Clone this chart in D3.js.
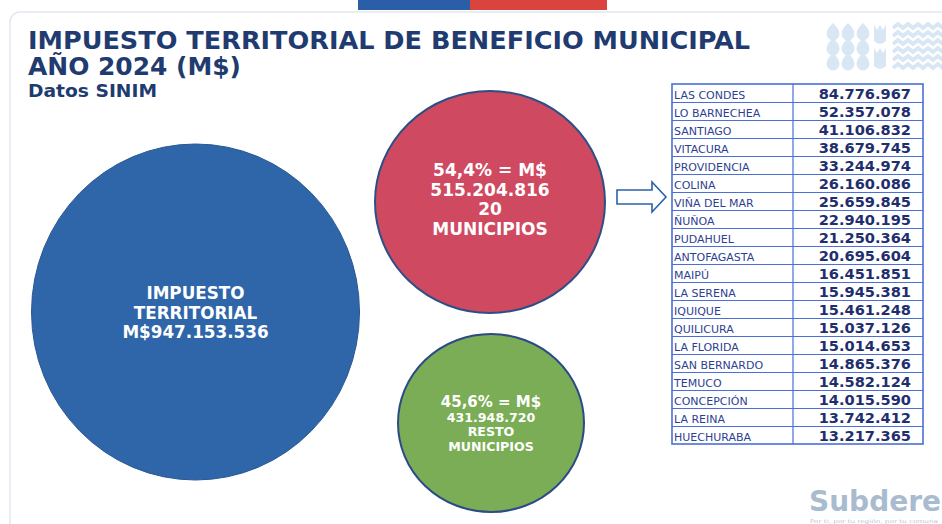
<!DOCTYPE html>
<html><head><meta charset="utf-8">
<script src="https://cdn.jsdelivr.net/npm/d3@7"></script>
<style>
html,body{margin:0;padding:0;background:#fff;}
svg{display:block;}
</style></head>
<body>
<div id="chart"></div>
<script>
// ---------- DATA ----------
const titleLines = ["IMPUESTO TERRITORIAL DE BENEFICIO MUNICIPAL", "AÑO 2024 (M$)"];
const subtitle = "Datos SINIM";
const municipios = ["LAS CONDES","LO BARNECHEA","SANTIAGO","VITACURA","PROVIDENCIA","COLINA","VIÑA DEL MAR","ÑUÑOA","PUDAHUEL","ANTOFAGASTA","MAIPÚ","LA SERENA","IQUIQUE","QUILICURA","LA FLORIDA","SAN BERNARDO","TEMUCO","CONCEPCIÓN","LA REINA","HUECHURABA"];
const valores = [84776967,52357078,41106832,38679745,33244974,26160086,25659845,22940195,21250364,20695604,16451851,15945381,15461248,15037126,15014653,14865376,14582124,14015590,13742412,13217365];
const grupos = ["total","top20","resto"];
const montos = [947153536, 515204816, 431948720];
const porcentajes = [null, 54.4, 45.6];
const etiquetasExtra = [["IMPUESTO","TERRITORIAL"], ["20","MUNICIPIOS"], ["RESTO","MUNICIPIOS"]];

// ---------- LAYOUT / STYLE ----------
const W = 942, H = 524;
const loc = d3.formatLocale({decimal: ",", thousands: ".", grouping: [3], currency: ["M$", ""]});
const fmtInt = loc.format(",d");
const fmtPct = loc.format(".1f");

const circleLayout = {
  total: {cx: 195.5, cy: 312, rx: 164, ry: 168, fill: "#2F66AA", stroke: "#29578f", sw: 1},
  top20: {cx: 490, cy: 202, rx: 115, ry: 111, fill: "#CF4961", stroke: "#2c4f86", sw: 2},
  resto: {cx: 491, cy: 423, rx: 93, ry: 89, fill: "#7AAD55", stroke: "#2b4a86", sw: 2}
};
const navy = "#1f3b70";

const svg = d3.select("#chart").append("svg").attr("width", W).attr("height", H);

// card
svg.append("rect").attr("x", 10).attr("y", 12).attr("width", 950).attr("height", 540)
  .attr("rx", 10).attr("fill", "#fff").attr("stroke", "#e2e8f1").attr("stroke-width", 1.5);

// flag stripe
svg.append("rect").attr("x", 358).attr("y", 0).attr("width", 112).attr("height", 10).attr("fill", "#2A5EA8");
svg.append("rect").attr("x", 470).attr("y", 0).attr("width", 137).attr("height", 10).attr("fill", "#D9443F");

// top-right decorative logo
const logo = svg.append("g").attr("fill", "#d9e7f5").attr("stroke", "none");
[833, 848, 863].forEach(x => [33, 48, 63].forEach(y => {
  logo.append("path").attr("d",
    `M${x},${y-10} Q${x+6.5},${y-4} ${x+6.5},${y+1} A6.5,6.5 0 1,1 ${x-6.5},${y+1} Q${x-6.5},${y-4} ${x},${y-10} Z`);
}));
[[25, 47], [48, 72]].forEach(([y0, y1]) => {
  logo.append("path").attr("d",
    `M874,${y0} L877,${y0+5} L880,${y0} L883,${y0+5} L886,${y0} L886,${y1-6} Q880,${y1} 874,${y1-6} Z`);
});
const waveG = svg.append("g").attr("fill", "none").attr("stroke", "#d9e7f5").attr("stroke-width", 4);
[28, 36, 44, 52, 60, 68].forEach(y => {
  let d = `M893,${y}`;
  for (let x = 893; x < 945; x += 10) d += ` L${x+5},${y-4} L${x+10},${y}`;
  waveG.append("path").attr("d", d);
});

// titles
const tg = svg.append("g").attr("fill", navy).attr("font-weight", "bold")
  .attr("font-family", "'DejaVu Sans Condensed','DejaVu Sans',sans-serif").style("font-stretch", "condensed");
tg.append("text").attr("x", 28).attr("y", 49).attr("font-size", 24).attr("textLength", 722)
  .attr("lengthAdjust", "spacingAndGlyphs").text(titleLines[0]);
tg.append("text").attr("x", 28).attr("y", 75).attr("font-size", 24).attr("textLength", 213)
  .attr("lengthAdjust", "spacingAndGlyphs").text(titleLines[1]);
tg.append("text").attr("x", 28).attr("y", 97).attr("font-size", 18).attr("textLength", 129)
  .attr("lengthAdjust", "spacingAndGlyphs").text(subtitle);

// circles
const circG = svg.append("g");
grupos.forEach((g, i) => {
  const c = circleLayout[g];
  circG.append("ellipse").attr("cx", c.cx).attr("cy", c.cy).attr("rx", c.rx).attr("ry", c.ry)
    .attr("fill", c.fill).attr("stroke", c.stroke).attr("stroke-width", c.sw);
});

function lines(g, arr) {
  const c = circleLayout[g];
  const t = circG.append("text").attr("text-anchor", "middle").attr("fill", "#fff")
    .attr("font-family", "'DejaVu Sans',Verdana,sans-serif").attr("font-weight", "bold");
  arr.forEach(l => {
    t.append("tspan").attr("x", c.cx).attr("y", l.y).attr("font-size", l.fs).text(l.t);
  });
}
lines("total", [
  {t: etiquetasExtra[0][0], y: 299, fs: 16.8},
  {t: etiquetasExtra[0][1], y: 318.5, fs: 16.8},
  {t: "M$" + fmtInt(montos[0]), y: 338, fs: 16.8}
]);
lines("top20", [
  {t: fmtPct(porcentajes[1]) + "% = M$", y: 176, fs: 17},
  {t: fmtInt(montos[1]), y: 195.5, fs: 17},
  {t: etiquetasExtra[1][0], y: 215, fs: 17},
  {t: etiquetasExtra[1][1], y: 234.5, fs: 17}
]);
lines("resto", [
  {t: fmtPct(porcentajes[2]) + "% = M$", y: 407, fs: 15},
  {t: fmtInt(montos[2]), y: 421.5, fs: 12.6},
  {t: etiquetasExtra[2][0], y: 436, fs: 12.6},
  {t: etiquetasExtra[2][1], y: 450.5, fs: 12.6}
]);

// arrow
svg.append("path")
  .attr("d", "M617,190 L652,190 L652,182 L666,197 L652,212 L652,204 L617,204 Z")
  .attr("fill", "#fff").attr("stroke", "#2A62AC").attr("stroke-width", 1.6).attr("stroke-linejoin", "miter");

// table
const tX0 = 672, tX1 = 793, tX2 = 923;
const y = d3.scaleBand().domain(municipios).range([84, 444]).padding(0);
const tbl = svg.append("g");
const rows = tbl.selectAll("g.row").data(municipios.map((m, i) => ({m, v: valores[i]})))
  .join("g").attr("class", "row").attr("transform", d => `translate(0,${y(d.m)})`);
rows.append("text").attr("x", tX0 + 2).attr("y", y.bandwidth() - 3)
  .attr("font-family", "'DejaVu Sans',Verdana,sans-serif").attr("font-size", 11)
  .attr("fill", "#2e3f93").text(d => d.m);
rows.append("text").attr("x", tX2 - 12).attr("y", y.bandwidth() - 3).attr("text-anchor", "end")
  .attr("font-family", "'DejaVu Sans',Verdana,sans-serif").attr("font-weight", "bold").attr("font-size", 14.6)
  .attr("fill", "#1f2f6e").text(d => fmtInt(d.v));
const lineCol = "#4a6fd6";
tbl.selectAll("line.h").data(municipios.slice(1)).join("line").attr("class", "h")
  .attr("x1", tX0).attr("x2", tX2).attr("y1", d => y(d) + 0.5).attr("y2", d => y(d) + 0.5)
  .attr("stroke", lineCol).attr("stroke-width", 1.2);
tbl.append("line").attr("x1", tX1).attr("x2", tX1).attr("y1", 84).attr("y2", 444)
  .attr("stroke", lineCol).attr("stroke-width", 1.2);
tbl.append("rect").attr("x", tX0).attr("y", 84).attr("width", tX2 - tX0).attr("height", 360)
  .attr("fill", "none").attr("stroke", lineCol).attr("stroke-width", 1.6);

// Subdere logo
svg.append("text").attr("x", 809).attr("y", 511).attr("font-family", "'DejaVu Sans',sans-serif")
  .attr("font-weight", "bold").attr("font-size", 28).attr("fill", "#a8bbcf").text("Subdere");
svg.append("text").attr("x", 810).attr("y", 523).attr("font-family", "'DejaVu Sans',sans-serif")
  .attr("font-size", 5).attr("fill", "#b8c5d5").attr("textLength", 128).attr("lengthAdjust", "spacingAndGlyphs")
  .text("Por ti, por tu región, por tu comuna");
</script>
</body></html>
